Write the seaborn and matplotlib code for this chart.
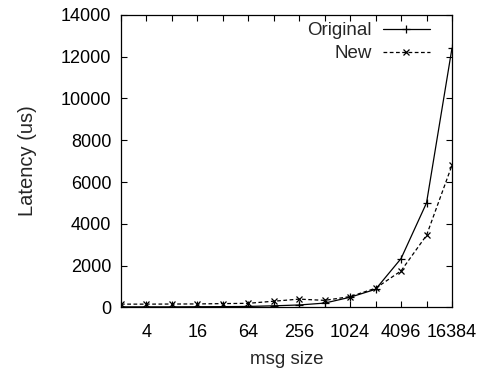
import pandas as pd
import numpy as np
import matplotlib
matplotlib.use("Agg")
import matplotlib.pyplot as plt
import seaborn as sns
from matplotlib.ticker import FixedLocator, FuncFormatter, MultipleLocator

# message sizes (bytes) and latencies (us)
msg_sizes = [2, 4, 8, 16, 32, 64, 128, 256, 512, 1024, 2048, 4096, 8192, 16384]
original = [30, 30, 30, 35, 40, 50, 80, 120, 210, 490, 870, 2340, 5000, 12400]
new = [160, 160, 165, 170, 185, 200, 300, 400, 340, 520, 920, 1750, 3450, 6800]

df = pd.DataFrame({'msg_size': msg_sizes, 'Original': original, 'New': new})

sns.set_style('ticks')
plt.rcParams['font.family'] = ['Liberation Sans', 'DejaVu Sans']
plt.rcParams['font.size'] = 13

fig = plt.figure(figsize=(4.89, 3.79), dpi=100)
ax = fig.add_axes([0.2474, 0.1887, 0.6769, 0.7725])

sns.lineplot(data=df, x='msg_size', y='Original', ax=ax, color='black', linewidth=0.9,
             marker='+', markersize=6, markeredgewidth=0.9, markeredgecolor='black',
             label='Original')
sns.lineplot(data=df, x='msg_size', y='New', ax=ax, color='black', linewidth=0.9,
             marker='x', markersize=4.5, markeredgewidth=0.9, markeredgecolor='black',
             label='New')

ax.set_xscale('log', base=2)
ax.set_xlim(2, 16384)
ax.set_ylim(0, 14000)
ax.xaxis.set_major_locator(FixedLocator(msg_sizes))
ax.xaxis.set_minor_locator(FixedLocator([]))
ax.xaxis.set_major_formatter(FuncFormatter(
    lambda v, p: str(int(round(v))) if int(round(np.log2(v))) % 2 == 0 else ''))
ax.yaxis.set_major_locator(MultipleLocator(2000))

ax.tick_params(direction='in', length=4, width=0.8, top=True, right=True,
               colors='black', labelsize=13)
ax.tick_params(axis='y', pad=7)
ax.tick_params(axis='x', pad=12)
for s in ax.spines.values():
    s.set_visible(True)
    s.set_color('black')
    s.set_linewidth(0.9)

ax.set_xlabel('msg size', fontsize=13.5, labelpad=7)
ax.set_ylabel('Latency (us)', fontsize=14.5, labelpad=17)

leg = ax.legend(loc='upper right', bbox_to_anchor=(0.955, 1.0), frameon=False,
                markerfirst=False, fontsize=13.5, handlelength=2.5,
                handletextpad=0.6, borderaxespad=0.0, labelspacing=0.3)
ax.lines[1].set_linestyle((0, (3, 2)))
leg.get_lines()[1].set_linestyle((0, (3, 2)))

fig.savefig('out.png', dpi=100)
